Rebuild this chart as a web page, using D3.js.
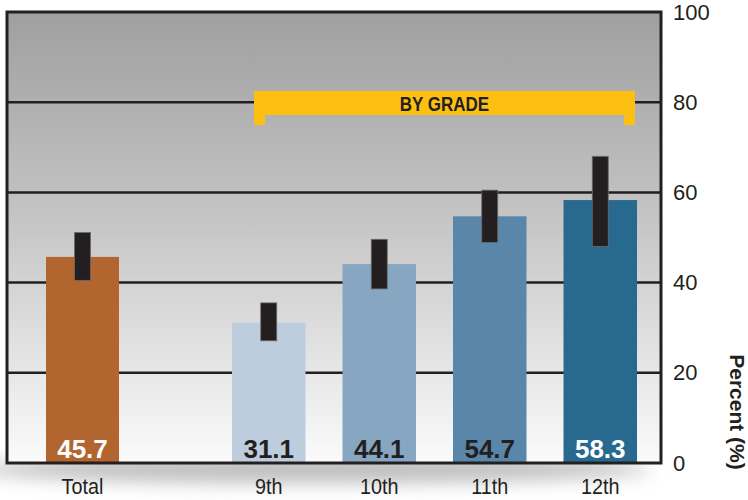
<!DOCTYPE html>
<html>
<head>
<meta charset="utf-8">
<script src="https://cdn.jsdelivr.net/npm/d3@7"></script>
<style>
  body { margin: 0; background: #fff; }
  .chart { width: 748px; height: 500px; }
  text { font-family: "Liberation Sans", "DejaVu Sans", sans-serif; }
</style>
</head>
<body>
<div class="chart"></div>
<script>
var totalLabel = ["Total"];
var totalValue = [45.7];
var totalLow = [40.5];
var totalHigh = [51.1];

var grades = ["9th", "10th", "11th", "12th"];
var gradeValues = [31.1, 44.1, 54.7, 58.3];
var gradeLow = [27.1, 38.6, 48.9, 48.0];
var gradeHigh = [35.5, 49.6, 60.5, 68.0];

var yTicks = [0, 20, 40, 60, 80, 100];

function drawChart() {
  var svg = d3.select(".chart").html("").append("svg")
      .attr("width", 748).attr("height", 500);

  var margin = {top: 12, left: 7, right: 87, bottom: 37},
      width = 748 - margin.left - margin.right,
      height = 500 - margin.top - margin.bottom;

  var defs = svg.append("defs");
  var grad = defs.append("linearGradient").attr("id", "bg")
      .attr("x1", 0).attr("y1", 0).attr("x2", 0).attr("y2", 1);
  grad.append("stop").attr("offset", "0%").attr("stop-color", "#9f9f9f");
  grad.append("stop").attr("offset", "45%").attr("stop-color", "#c4c4c4");
  grad.append("stop").attr("offset", "100%").attr("stop-color", "#fbfbfb");
  defs.append("filter").attr("id", "blur")
      .attr("x", "-20%").attr("y", "-100%").attr("width", "140%").attr("height", "300%")
    .append("feGaussianBlur").attr("stdDeviation", 9);

  var g = svg.append("g")
      .attr("transform", "translate(" + margin.left + "," + margin.top + ")");

  var y = d3.scaleLinear().domain([0, 100]).range([height, 0]);

  // one band scale for the overall bar, one for the grade group
  var xTotal = d3.scaleBand().domain(totalLabel).range([39, 112]);
  var xGrade = d3.scaleBand().domain(grades).range([225, 630])
      .paddingInner(0.335).paddingOuter(0);

  // shadow under plot
  g.append("ellipse")
      .attr("cx", width / 2 - 20).attr("cy", height + 6)
      .attr("rx", width / 2 + 10).attr("ry", 14)
      .attr("fill", "#bdbdbd")
      .attr("filter", "url(#blur)");

  g.append("rect")
      .attr("width", width).attr("height", height)
      .attr("fill", "url(#bg)");

  g.selectAll(".grid")
    .data(yTicks.filter(function(d) { return d > 0 && d < 100; }))
    .enter().append("line")
      .attr("class", "grid")
      .attr("x1", 0).attr("x2", width)
      .attr("y1", function(d) { return y(d); })
      .attr("y2", function(d) { return y(d); })
      .attr("stroke", "#231f20").attr("stroke-width", 2.5);

  // BY GRADE bracket
  var br = g.append("g").attr("fill", "#fdbf12");
  var bx0 = xGrade("9th") + 22, bx1 = xGrade("12th") + xGrade.bandwidth() - 2;
  br.append("rect").attr("x", bx0).attr("y", 79)
      .attr("width", bx1 - bx0).attr("height", 24);
  br.append("rect").attr("x", bx0).attr("y", 79).attr("width", 11).attr("height", 34);
  br.append("rect").attr("x", bx1 - 11).attr("y", 79).attr("width", 11).attr("height", 34);
  g.append("text")
      .attr("transform", "translate(" + ((bx0 + bx1) / 2) + ",99) scale(0.81,1)")
      .attr("text-anchor", "middle")
      .style("font-weight", "bold").style("font-size", "21px")
      .attr("fill", "#231f20")
      .text("BY GRADE");

  var totalData = totalLabel.map(function(c, i) {
    return {cat: c, v: totalValue[i], lo: totalLow[i], hi: totalHigh[i], color: "#b2652f", txt: "#fff", x: xTotal(c), w: xTotal.bandwidth()};
  });
  var gradeColors = ["#bdcddd", "#87a6c2", "#5a86a9", "#286a8f"];
  var gradeText = ["#231f20", "#231f20", "#231f20", "#fff"];
  var gradeData = grades.map(function(c, i) {
    return {cat: c, v: gradeValues[i], lo: gradeLow[i], hi: gradeHigh[i], color: gradeColors[i], txt: gradeText[i], x: xGrade(c), w: xGrade.bandwidth()};
  });
  var data = totalData.concat(gradeData);

  g.selectAll(".bar")
    .data(data)
    .enter().append("rect")
      .attr("class", "bar")
      .attr("x", function(d) { return d.x; })
      .attr("y", function(d) { return y(d.v); })
      .attr("width", function(d) { return d.w; })
      .attr("height", function(d) { return height - y(d.v); })
      .attr("fill", function(d) { return d.color; });

  g.selectAll(".err")
    .data(data)
    .enter().append("rect")
      .attr("class", "err")
      .attr("x", function(d) { return d.x + d.w / 2 - 8; })
      .attr("y", function(d) { return y(d.hi); })
      .attr("width", 16)
      .attr("height", function(d) { return y(d.lo) - y(d.hi); })
      .attr("fill", "#231f20")
      .attr("stroke", "#6d6b6b").attr("stroke-width", 0.8);

  g.selectAll(".val")
    .data(data)
    .enter().append("text")
      .attr("class", "val")
      .attr("x", function(d) { return d.x + d.w / 2; })
      .attr("y", height - 5)
      .attr("text-anchor", "middle")
      .style("font-weight", "bold").style("font-size", "26px")
      .attr("fill", function(d) { return d.txt; })
      .text(function(d) { return d.v.toFixed(1); });

  g.selectAll(".cat")
    .data(data)
    .enter().append("text")
      .attr("class", "cat")
      .attr("transform", function(d) { return "translate(" + (d.x + d.w / 2) + "," + (height + 31) + ") scale(0.9,1)"; })
      .attr("text-anchor", "middle")
      .style("font-size", "22px")
      .attr("fill", "#231f20")
      .text(function(d) { return d.cat; });

  g.append("rect")
      .attr("width", width).attr("height", height)
      .attr("fill", "none")
      .attr("stroke", "#231f20").attr("stroke-width", 3);

  var axis = g.append("g")
      .attr("transform", "translate(" + width + ",0)")
      .call(d3.axisRight(y).tickValues(yTicks).tickSize(0).tickPadding(12));
  axis.select(".domain").remove();
  axis.selectAll("text")
      .style("font-family", "'Liberation Sans', sans-serif")
      .style("font-size", "22px")
      .attr("fill", "#231f20");

  svg.append("text")
      .attr("transform", "translate(730,412) rotate(90)")
      .attr("text-anchor", "middle")
      .style("font-weight", "bold").style("font-size", "21px")
      .attr("fill", "#231f20")
      .text("Percent (%)");
}

drawChart();
</script>
</body>
</html>
